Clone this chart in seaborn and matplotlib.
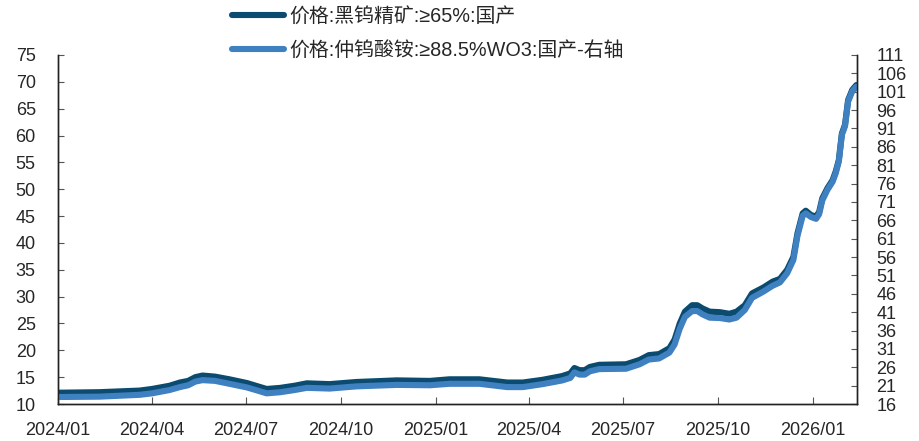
import pandas as pd
import seaborn as sns
import matplotlib.pyplot as plt
import matplotlib.dates as mdates

dates = [
    '2024-01-01', '2024-02-10', '2024-03-20', '2024-04-01', '2024-04-18', '2024-04-28',
    '2024-05-06', '2024-05-13', '2024-05-20', '2024-06-01', '2024-06-15', '2024-07-02',
    '2024-07-14', '2024-07-21', '2024-08-03', '2024-08-17', '2024-08-29', '2024-09-20',
    '2024-10-16', '2024-11-24', '2024-12-26', '2025-01-14', '2025-02-12', '2025-03-11',
    '2025-03-26', '2025-04-14', '2025-05-03', '2025-05-11', '2025-05-15', '2025-05-20',
    '2025-05-25', '2025-05-30', '2025-06-08', '2025-07-04', '2025-07-17', '2025-07-26',
    '2025-08-05', '2025-08-15', '2025-08-20', '2025-08-25', '2025-08-30', '2025-09-06',
    '2025-09-11', '2025-09-16', '2025-09-23', '2025-10-03', '2025-10-12', '2025-10-19',
    '2025-10-27', '2025-11-03', '2025-11-14', '2025-11-23', '2025-11-30', '2025-12-07',
    '2025-12-13', '2025-12-17', '2025-12-22', '2025-12-25', '2025-12-30', '2026-01-04',
    '2026-01-07', '2026-01-10', '2026-01-15', '2026-01-20', '2026-01-23', '2026-01-26',
    '2026-01-29', '2026-02-01', '2026-02-04', '2026-02-08', '2026-02-12',
]

# 黑钨精矿 (left axis)
wolframite = [
    12.1, 12.2, 12.5, 12.8, 13.4, 14.0,
    14.3, 15.0, 15.3, 15.1, 14.6, 13.9,
    13.2, 12.8, 13.0, 13.4, 13.85, 13.7,
    14.1, 14.4, 14.3, 14.6, 14.6, 14.0,
    14.0, 14.5, 15.2, 15.7, 16.7, 16.3,
    16.3, 16.9, 17.3, 17.4, 18.2, 19.1,
    19.3, 20.4, 22.0, 25.0, 27.2, 28.4,
    28.4, 27.8, 27.2, 27.1, 26.8, 27.2,
    28.4, 30.6, 31.7, 32.8, 33.3, 35.0,
    37.4, 41.8, 45.5, 46.0, 45.2, 44.9,
    45.8, 48.3, 50.2, 51.7, 53.3, 55.4,
    60.4, 62.0, 66.6, 68.5, 69.4,
]

# 仲钨酸铵 (right axis)
apt = [
    17.9, 18.0, 18.5, 18.9, 19.8, 20.6,
    21.1, 22.1, 22.5, 22.3, 21.5, 20.5,
    19.5, 18.9, 19.2, 19.8, 20.4, 20.2,
    20.8, 21.2, 21.1, 21.5, 21.5, 20.6,
    20.6, 21.4, 22.4, 23.1, 24.6, 24.0,
    24.0, 24.9, 25.5, 25.6, 26.8, 28.1,
    28.4, 30.0, 32.2, 36.5, 39.7, 41.3,
    41.3, 40.4, 39.5, 39.4, 39.0, 39.5,
    41.6, 44.9, 46.6, 48.2, 49.1, 51.6,
    55.2, 61.8, 67.2, 67.9, 66.9, 66.4,
    67.7, 71.4, 74.3, 76.5, 78.8, 82.0,
    89.3, 91.6, 98.3, 101.1, 102.4,
]

left_ticks = list(range(10, 76, 5))
right_ticks = list(range(16, 112, 5))

label_left = '价格:黑钨精矿:≥65%:国产'
label_right = '价格:仲钨酸铵:≥88.5%WO3:国产-右轴'

df = pd.DataFrame({'date': pd.to_datetime(dates), 'left': wolframite, 'right': apt})

sns.set_theme(style="white")
plt.rcParams['font.family'] = ['Liberation Sans', 'Noto Sans CJK SC', 'DejaVu Sans']

fig = plt.figure(figsize=(9.19, 4.41), dpi=100)
ax = fig.add_axes([0.0631, 0.0839, 0.8694, 0.7914])
ax2 = ax.twinx()

sns.lineplot(data=df, x='date', y='left', ax=ax, color='#0B4B70', linewidth=4.4,
             label=label_left, legend=False, solid_capstyle='round')
sns.lineplot(data=df, x='date', y='right', ax=ax2, color='#3F80C0', linewidth=4.4,
             label=label_right, legend=False, solid_capstyle='round')

ax.set_xlim(pd.Timestamp('2024-01-01'), pd.Timestamp('2026-02-12 14:00'))
ax.set_ylim(10, 75)
ax2.set_ylim(16, 111)
ax.set_yticks(left_ticks)
ax2.set_yticks(right_ticks)

ax.xaxis.set_major_locator(mdates.MonthLocator(bymonth=[1, 4, 7, 10]))
ax.xaxis.set_major_formatter(mdates.DateFormatter('%Y/%m'))

ax.set_xlabel('')
ax.set_ylabel('')
ax2.set_ylabel('')

for a in (ax, ax2):
    a.spines['top'].set_visible(False)
    for s in ('left', 'right', 'bottom'):
        a.spines[s].set_color('#222222')
        a.spines[s].set_linewidth(1.0)

ax.tick_params(axis='y', direction='in', length=4, width=0.8, color='#555555',
               labelsize=13, pad=16, left=True)
ax.tick_params(axis='x', direction='in', length=5, width=0.8, color='#555555',
               labelsize=13, pad=13, bottom=True)
ax2.tick_params(axis='y', direction='in', length=4, width=0.8, color='#555555',
                labelsize=13, pad=14, right=True)

h1, l1 = ax.get_legend_handles_labels()
h2, l2 = ax2.get_legend_handles_labels()
fig.legend(h1 + h2, l1 + l2, loc='upper left', bbox_to_anchor=(232 / 919, 1 - 7 / 441),
           frameon=False, fontsize=14.3, handlelength=2.6, handletextpad=0.3,
           labelspacing=0.75, borderpad=0, borderaxespad=0)

fig.savefig('out.png', dpi=100)
